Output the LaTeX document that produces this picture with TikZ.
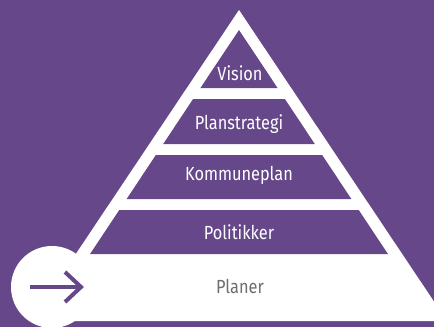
\documentclass[tikz,border=0pt]{standalone}
\usepackage{fontspec}
\setmainfont{Fira Sans}[FakeStretch=0.86]
\usetikzlibrary{arrows.meta}

\definecolor{plumbg}{RGB}{102,72,138}
\definecolor{planergray}{RGB}{110,110,110}

\begin{document}
\begin{tikzpicture}[
            x = 1pt, y = -1pt, % one unit per pixel, y downwards
            band/.style = {fill = plumbg},
            level/.style = {text = white, anchor = base, inner sep = 0pt,
                font = \fontsize{19}{19}\selectfont},
            semithick
        ]

        \useasboundingbox (0,0) rectangle (434,327);
        \clip (0,0) rectangle (434,327);
        \fill[plumbg] (0,0) rectangle (434,327);

        % outer white pyramid
        \fill[white] (239,10) -- (447,321) -- (31,321) -- cycle;

        % purple levels
        \fill[band] (239,30) -- ({239+0.665*58},88) -- ({239-0.665*58},88) -- cycle;
        \foreach \t/\b in {99/144, 155/199, 210/254}
            \fill[band] ({239-0.665*(\t-30)},\t) -- ({239+0.665*(\t-30)},\t)
                -- ({239+0.665*(\b-30)},\b) -- ({239-0.665*(\b-30)},\b) -- cycle;

	\node[level] (vision) at (240,80) {Vision};
	\node[level] (strategi) at (239,129) {Planstrategi};
	\node[level] (kommune) at (239,180) {Kommuneplan};
	\node[level] (politikk) at (239,239) {Politikker};
	\node[level, text = planergray] (planer) at (240,293) {Planer};

        % start circle with arrow
	\node[circle, fill = white, minimum size = 82pt, inner sep = 0pt] (start) at (52,287) {};
	\coordinate (tail) at (30,287);
	\coordinate (head) at (81,287);
	\coordinate (barbup) at (65,272);
	\coordinate (barbdown) at (65,302);
	\draw[plumbg, line width = 4pt] (tail) -- ([xshift=-2pt]head);
	\draw[plumbg, line width = 4pt] (barbup) -- (head) -- (barbdown);

    \end{tikzpicture}
\end{document}
